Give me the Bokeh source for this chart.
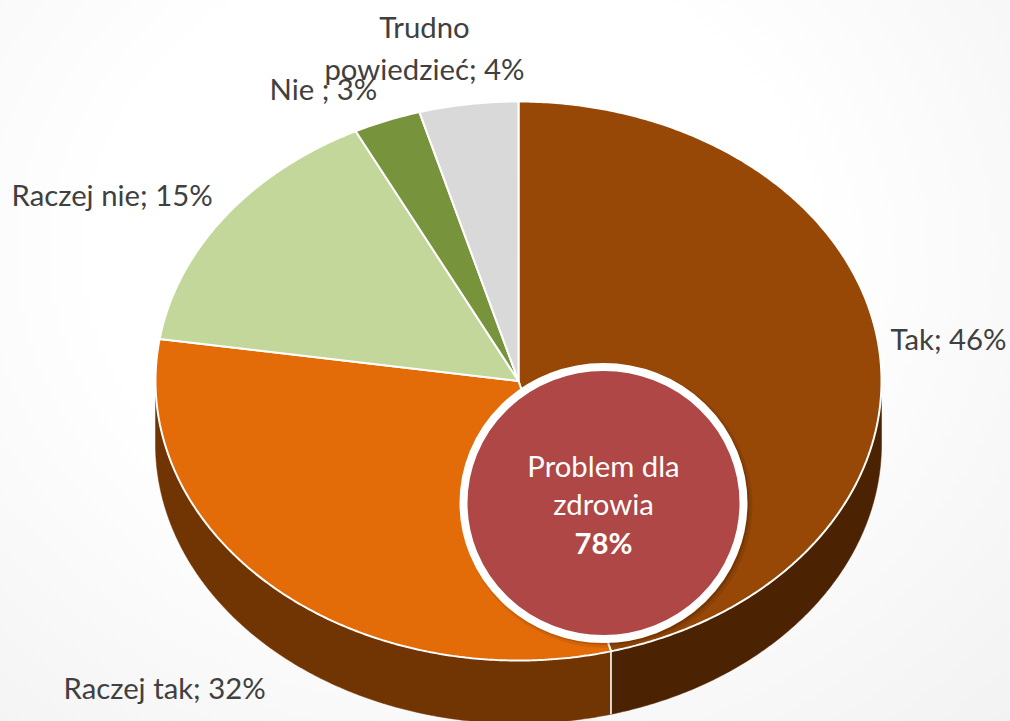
import numpy as np
from bokeh.embed import file_html
from bokeh.models import Range1d
from bokeh.plotting import figure
from bokeh.resources import INLINE
from bokeh.core.properties import value

categories = ["Tak", "Raczej tak", "Raczej nie", "Nie", "Trudno powiedzieć"]
label_values = [46, 32, 15, 3, 4]
# slice sizes (the printed labels are rounded)
shares = [45.9, 31.5, 15.2, 3.0, 4.4]
face_colors = ["#974706", "#E36C09", "#C4D79B", "#77933C", "#D9D9D9"]
wall_colors = {"Tak": "#4B2302", "Raczej tak": "#713403"}
highlight_lines = ["Problem dla", "zdrowia"]
highlight_value = "78%"

# layout, in page pixels
W, H = 1010, 721
CX, CY, RX, RY, DEPTH = 518.0, 380.5, 363.0, 279.5, 63.0
FONT = "Lato"
FS = "29.3px"
TEXT = "#404040"

p = figure(width=W, height=H, output_backend="svg", toolbar_location=None,
           x_range=Range1d(0, W), y_range=Range1d(H, 0), min_border=0)
p.axis.visible = False
p.grid.visible = False
p.outline_line_color = None
p.background_fill_color = None
p.border_fill_color = None
p.styles = {"position": "absolute", "left": "0px", "top": "0px",
            "background": "radial-gradient(ellipse at 45% 35%, #ffffff 45%, #f2f2f2 100%)"}


def arc(a0, a1, cy):
    t = np.radians(np.linspace(a0, a1, max(int(abs(a1 - a0) * 2), 2)))
    return CX + RX * np.sin(t), cy - RY * np.cos(t)


edges = np.cumsum([0] + shares) / sum(shares) * 360.0

# side wall: only the near half of the rim shows
seams = []
for name, a0, a1 in zip(categories, edges[:-1], edges[1:]):
    if name not in wall_colors:
        continue
    lo, hi = max(a0, 90), min(a1, 270)
    xt, yt = arc(lo, hi, CY)
    xb, yb = arc(lo, hi, CY + DEPTH)
    p.patch(np.r_[xt, xb[::-1]], np.r_[yt, yb[::-1]], fill_color=wall_colors[name],
            line_color=wall_colors[name], line_width=0.5)
    if a1 < 270:
        seams.append(([xt[-1], xb[-1]], [yt[-1], yb[-1]]))
for sx, sy in seams:
    p.line(sx, sy, line_color="white", line_width=1.6)

# top face
for color, a0, a1 in zip(face_colors, edges[:-1], edges[1:]):
    xa, ya = arc(a0, a1, CY)
    p.patch(np.r_[CX, xa], np.r_[CY, ya], fill_color=color, line_color="white", line_width=2)

# centre badge
BX, BY, BW, BH = 603.0, 502.5, 280.0, 272.0
p.ellipse(BX + 3, BY + 3, width=BW + 12, height=BH + 12, fill_color="black", fill_alpha=0.08, line_color=None)
p.ellipse(BX + 2, BY + 2, width=BW + 8, height=BH + 8, fill_color="black", fill_alpha=0.14, line_color=None)
p.ellipse(BX, BY, width=BW, height=BH, fill_color="#AE4745", line_color="white", line_width=8)


def label(x, y, s, align="left", color=TEXT, style="normal", fs=FS):
    p.text([x], [y], text=[s], text_align=align, text_baseline="alphabetic",
           text_color=color, text_font=value(FONT), text_font_size=fs, text_font_style=style)


label(424, 26, "Trudno", "center")
label(424, 68, f"powiedzieć; {label_values[4]}%", "center")
label(269, 88, f"Nie ; {label_values[3]}%", "left")
label(11, 194, f"Raczej nie; {label_values[2]}%", "left")
label(890, 338, f"Tak; {label_values[0]}%", "left")
label(63, 687, f"Raczej tak; {label_values[1]}%", "left")

label(603, 465, highlight_lines[0], "center", "white")
label(603, 503, highlight_lines[1], "center", "white")
label(603, 542, highlight_value, "center", "white", "bold")

open("out.html", "w").write(file_html(p, INLINE))
